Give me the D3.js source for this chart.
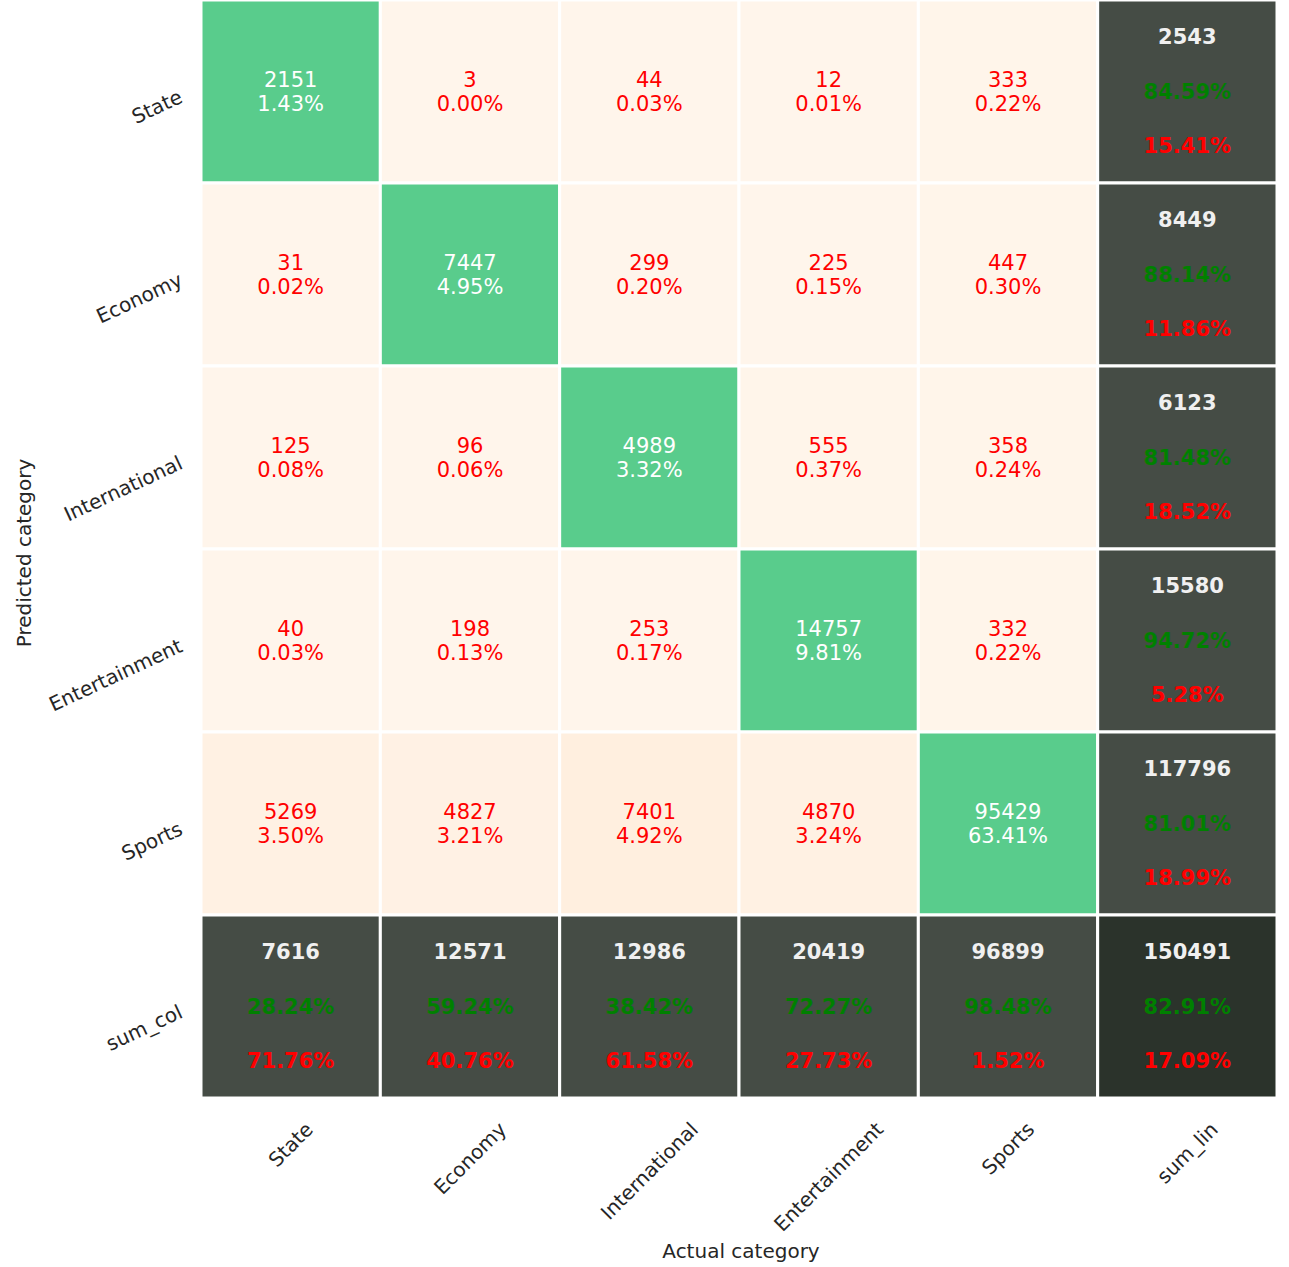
<!DOCTYPE html>
<html>
<head>
<meta charset="utf-8">
<script src="https://cdn.jsdelivr.net/npm/d3@7"></script>
<style>
  body { margin: 0; background: #fff; }
  svg { display: block; font-family: "DejaVu Sans", sans-serif; }
</style>
</head>
<body>
<div id="chart"></div>
<script>
// categories (predicted rows / actual columns)
const categories = ["State", "Economy", "International", "Entertainment", "Sports"];
const rowTotalLabel = "sum_col";
const colTotalLabel = "sum_lin";

// counts: rows = predicted, columns = actual
const counts = [
    [2151, 3, 44, 12, 333],
    [31, 7447, 299, 225, 447],
    [125, 96, 4989, 555, 358],
    [40, 198, 253, 14757, 332],
    [5269, 4827, 7401, 4870, 95429]
];

const W = 1289, H = 1267;
const grid = { left: 201, right: 1277, top: 0, bottom: 1098 };

const rowSums = counts.map(r => d3.sum(r));
const colSums = categories.map((c, j) => d3.sum(counts, r => r[j]));
const total = d3.sum(rowSums);

const xLabels = [...categories, colTotalLabel];
const yLabels = [...categories, rowTotalLabel];

const x = d3.scaleBand().domain(xLabels).range([grid.left, grid.right]);
const y = d3.scaleBand().domain(yLabels).range([grid.top, grid.bottom]);

const color = d3.scaleSequential(d3.interpolateOranges).domain([0, total]);

const diagCol = "#59cc8c";
const sumCol = "#454c45";
const cornerCol = "#2b332b";
const fmtPct = v => (v * 100).toFixed(2) + "%";

// build cell table
const cells = [];
yLabels.forEach((rl, i) => {
    xLabels.forEach((cl, j) => {
        const n = categories.length;
        let cell = { row: rl, col: cl, i, j };
        if (i < n && j < n) {
            const v = counts[i][j];
            cell.kind = i === j ? "diag" : "off";
            cell.value = v;
            cell.fill = i === j ? diagCol : color(v);
        } else if (i === n && j === n) {
            const ok = d3.sum(categories, (c, k) => counts[k][k]);
            cell.kind = "total";
            cell.value = total;
            cell.good = ok / total;
            cell.fill = cornerCol;
        } else if (j === n) {
            cell.kind = "total";
            cell.value = rowSums[i];
            cell.good = counts[i][i] / rowSums[i];
            cell.fill = sumCol;
        } else {
            cell.kind = "total";
            cell.value = colSums[j];
            cell.good = counts[j][j] / colSums[j];
            cell.fill = sumCol;
        }
        cells.push(cell);
    });
});

const svg = d3.select("#chart").append("svg")
    .attr("width", W)
    .attr("height", H);

const g = svg.selectAll("g.cell")
    .data(cells)
    .enter()
    .append("g")
    .attr("class", "cell")
    .attr("transform", d => `translate(${x(d.col)},${y(d.row)})`);

g.append("rect")
    .attr("width", x.bandwidth())
    .attr("height", y.bandwidth())
    .attr("fill", d => d.fill)
    .attr("stroke", "#fff")
    .attr("stroke-width", 3);

const cx = x.bandwidth() / 2, cy = y.bandwidth() / 2;

// normal cells: count + share of total
const normal = g.filter(d => d.kind !== "total");
normal.append("text")
    .attr("x", cx)
    .attr("y", cy - 12)
    .attr("text-anchor", "middle")
    .attr("dominant-baseline", "central")
    .attr("font-size", 21)
    .attr("fill", d => d.kind === "diag" ? "#fff" : "#ff0000")
    .text(d => d.value);
normal.append("text")
    .attr("x", cx)
    .attr("y", cy + 12)
    .attr("text-anchor", "middle")
    .attr("dominant-baseline", "central")
    .attr("font-size", 21)
    .attr("fill", d => d.kind === "diag" ? "#fff" : "#ff0000")
    .text(d => fmtPct(d.value / total));

// total cells: count, correct %, wrong %
const tot = g.filter(d => d.kind === "total");
tot.append("text")
    .attr("x", cx).attr("y", cy - 55)
    .attr("text-anchor", "middle").attr("dominant-baseline", "central")
    .attr("font-size", 21).attr("font-weight", "bold")
    .attr("fill", "#f0f0f0")
    .text(d => d.value);
tot.append("text")
    .attr("x", cx).attr("y", cy)
    .attr("text-anchor", "middle").attr("dominant-baseline", "central")
    .attr("font-size", 21).attr("font-weight", "bold")
    .attr("fill", "#008000")
    .text(d => fmtPct(d.good));
tot.append("text")
    .attr("x", cx).attr("y", cy + 54)
    .attr("text-anchor", "middle").attr("dominant-baseline", "central")
    .attr("font-size", 21).attr("font-weight", "bold")
    .attr("fill", "#ff0000")
    .text(d => fmtPct(1 - d.good));

// x tick labels, rotated 45, bbox centred under column
const tickSize = 20;
svg.selectAll("text.xtick")
    .data(xLabels)
    .enter()
    .append("text")
    .attr("class", "xtick")
    .attr("font-size", tickSize)
    .attr("fill", "#262626")
    .attr("text-anchor", "middle")
    .attr("dominant-baseline", "central")
    .text(d => d)
    .each(function (d) {
        const w = this.getComputedTextLength();
        const h = tickSize * 1.1;
        const bh = (w + h) * Math.SQRT1_2;
        const px = x(d) + x.bandwidth() / 2;
        const py = grid.bottom + 20 + bh / 2;
        d3.select(this)
            .attr("x", px).attr("y", py)
            .attr("transform", `rotate(-45,${px},${py})`);
    });

// y tick labels, rotated 25, right aligned
svg.selectAll("text.ytick")
    .data(yLabels)
    .enter()
    .append("text")
    .attr("class", "ytick")
    .attr("font-size", tickSize)
    .attr("fill", "#262626")
    .attr("text-anchor", "end")
    .attr("dominant-baseline", "central")
    .each(function (d) {
        const px = grid.left - 20;
        const py = y(d) + y.bandwidth() / 2 + 4;
        d3.select(this)
            .attr("x", px).attr("y", py)
            .attr("transform", `rotate(-25,${px},${py})`);
    })
    .text(d => d);

// axis titles
svg.append("text")
    .attr("text-anchor", "middle")
    .attr("x", (grid.left + grid.right) / 2 + 2)
    .attr("y", 1258)
    .attr("font-size", tickSize)
    .attr("fill", "#262626")
    .text("Actual category");

svg.append("text")
    .attr("text-anchor", "middle")
    .attr("transform", "rotate(-90)")
    .attr("x", -553)
    .attr("y", 31)
    .attr("font-size", tickSize)
    .attr("fill", "#262626")
    .text("Predicted category");
</script>
</body>
</html>
